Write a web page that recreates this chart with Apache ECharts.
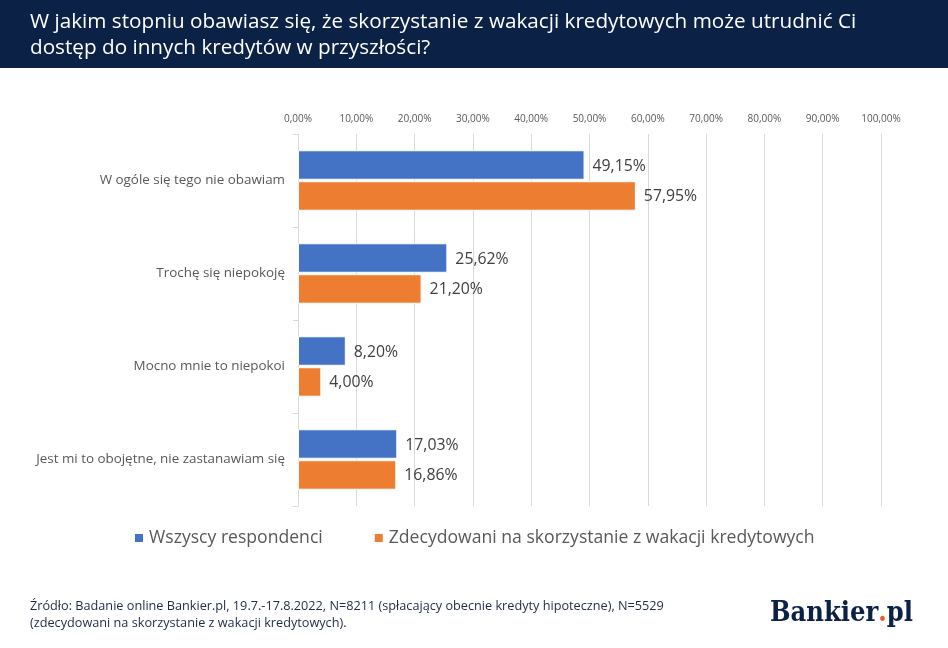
<!DOCTYPE html>
<html><head><meta charset="utf-8">
<script src="https://cdn.jsdelivr.net/npm/echarts@6/dist/echarts.min.js"></script>
<style>html,body{margin:0;padding:0;background:#fff}#c{width:948px;height:648px}</style>
</head><body><div id="c"></div>
<script>
const categories = ['W ogóle się tego nie obawiam', 'Trochę się niepokoję', 'Mocno mnie to niepokoi', 'Jest mi to obojętne, nie zastanawiam się'];
const seriesNames = ['Wszyscy respondenci', 'Zdecydowani na skorzystanie z wakacji kredytowych'];
const allRespondents = [49.15, 25.62, 8.20, 17.03];
const decided = [57.95, 21.20, 4.00, 16.86];
const axisMin = 0, axisMax = 100, axisStep = 10;
const titleText = 'W jakim stopniu obawiasz się, że skorzystanie z wakacji kredytowych może utrudnić Ci\ndostęp do innych kredytów w przyszłości?';
const sourceText = 'Źródło: Badanie online Bankier.pl, 19.7.-17.8.2022, N=8211 (spłacający obecnie kredyty hipoteczne), N=5529\n(zdecydowani na skorzystanie z wakacji kredytowych).';

const fmt = v => v.toFixed(2).replace('.', ',') + '%';
const chart = echarts.init(document.getElementById('c'), null, {renderer: 'canvas'});
const labelStyle = {show: true, position: 'right', distance: 8, fontSize: 15.8, color: '#404040', fontFamily: 'Open Sans', offset: [0, 1], formatter: p => fmt(p.value)};
chart.setOption({
  animation: false,
  backgroundColor: '#fff',
  graphic: [
    {type: 'rect', shape: {x: 0, y: 0, width: 948, height: 68}, style: {fill: '#0B2246'}},
    {type: 'text', x: 30, y: 9, style: {text: titleText, fill: '#fff', font: '20.7px "Open Sans"', lineHeight: 26}},
    {type: 'text', x: 30, y: 598, style: {text: sourceText, fill: '#1f2b45', font: '12.7px "Open Sans"', lineHeight: 17}},
    {type: 'text', x: 770, y: 600, style: {text: '{a|Bankier}{d|.}{a|pl}', rich: {
      a: {fontFamily: 'DejaVu Serif Condensed', fontWeight: 'bold', fontSize: 27, fill: '#0B2246', color: '#0B2246'},
      d: {fontFamily: 'DejaVu Serif Condensed', fontWeight: 'bold', fontSize: 27, fill: '#F05A22', color: '#F05A22'}}}}
  ],
  legend: {
    data: seriesNames, left: 133, top: 529, padding: 0, icon: 'rect', itemWidth: 10, itemHeight: 10, itemGap: 50,
    textStyle: {fontSize: 17.6, color: '#595959', fontFamily: 'Open Sans'}
  },
  grid: {left: 298, right: 67, top: 134, bottom: 142, containLabel: false},
  xAxis: {
    type: 'value', position: 'top', min: axisMin, max: axisMax, interval: axisStep,
    axisLine: {show: false}, axisTick: {show: false},
    axisLabel: {formatter: fmt, fontSize: 10, color: '#595959', fontFamily: 'Open Sans', margin: 10},
    splitLine: {show: true, lineStyle: {color: '#d9d9d9', width: 1}}
  },
  yAxis: {
    type: 'category', data: categories, inverse: true,
    axisLine: {show: true, lineStyle: {color: '#d9d9d9'}},
    axisTick: {show: true, length: 5, lineStyle: {color: '#d9d9d9'}},
    axisLabel: {fontSize: 13.4, color: '#595959', fontFamily: 'Open Sans', margin: 13}
  },
  series: [
    {name: seriesNames[0], type: 'bar', data: allRespondents, barCategoryGap: '35%', barGap: '5%',
     itemStyle: {color: '#4472C4', borderColor: '#fff', borderWidth: 1}, label: labelStyle},
    {name: seriesNames[1], type: 'bar', data: decided,
     itemStyle: {color: '#ED7D31', borderColor: '#fff', borderWidth: 1}, label: labelStyle}
  ]
});
</script></body></html>
